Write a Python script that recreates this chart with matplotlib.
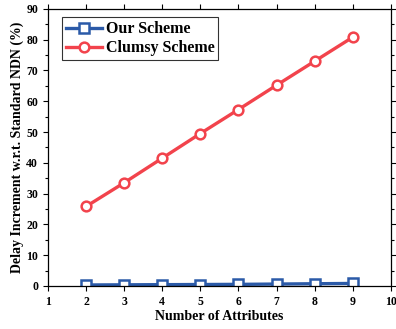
import numpy as np
import matplotlib
matplotlib.use('Agg')
import matplotlib.pyplot as plt
from matplotlib.ticker import MultipleLocator

plt.rcParams['font.family'] = ['Liberation Serif', 'DejaVu Serif']
plt.rcParams['font.weight'] = 'bold'

# data
attributes = [2, 3, 4, 5, 6, 7, 8, 9]
our_scheme = [0.3, 0.35, 0.4, 0.45, 0.5, 0.6, 0.7, 0.8]
clumsy_scheme = [25.8, 33.5, 41.5, 49.5, 57.3, 65.2, 73.0, 80.8]

blue = '#2b5aa8'
red = '#f2434c'

fig = plt.figure(figsize=(3.96, 3.29), dpi=100)
ax = fig.add_axes([0.121, 0.131, 0.866, 0.842])

ax.plot(attributes, our_scheme, color=blue, lw=2.4, marker='s', ms=6.5,
        mfc='white', mec=blue, mew=1.8, label='Our Scheme')
ax.plot(attributes, clumsy_scheme, color=red, lw=2.4, marker='o', ms=7,
        mfc='white', mec=red, mew=1.8, label='Clumsy Scheme')

ax.set_xlim(1, 10)
ax.set_ylim(0, 90)
ax.xaxis.set_major_locator(MultipleLocator(1))
ax.yaxis.set_major_locator(MultipleLocator(10))
ax.yaxis.set_minor_locator(MultipleLocator(5))

ax.tick_params(direction='out', which='both', top=True, right=True,
               labeltop=False, labelright=False, labelsize=8.5, width=0.8)
ax.tick_params(which='major', length=3.5)
ax.tick_params(which='minor', length=2)
for s in ax.spines.values():
    s.set_linewidth(0.9)

ax.set_xlabel('Number of Attributes', fontsize=10, fontweight='bold', labelpad=2)
ax.set_ylabel('Delay Increment w.r.t. Standard NDN (%)', fontsize=10,
              fontweight='bold', labelpad=2)

leg = ax.legend(loc='upper left', bbox_to_anchor=(0.04, 0.97), borderaxespad=0,
                fontsize=11.5, frameon=True, fancybox=False,
                edgecolor='black', handlelength=2.3,
                handletextpad=0.2, borderpad=0.25, labelspacing=0.2)
leg.get_frame().set_linewidth(0.8)

fig.savefig('out.png', dpi=100)
